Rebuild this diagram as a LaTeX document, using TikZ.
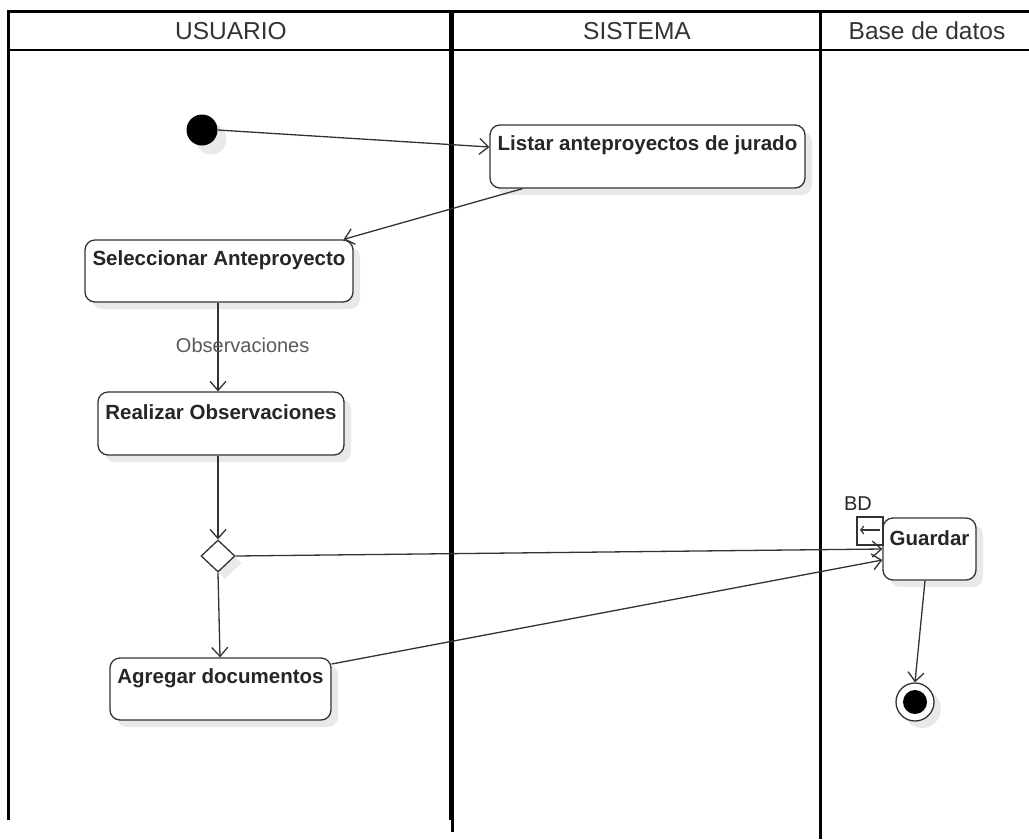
\documentclass[tikz,border=0pt]{standalone}
\usepackage{fontspec}
\setmainfont{Liberation Sans}
\usetikzlibrary{arrows.meta,shapes.geometric,shadows,calc}
\definecolor{ink}{HTML}{333333}
\definecolor{shd}{HTML}{E9E9E9}
\newcommand{\boxfont}{\fontsize{20.5pt}{24pt}\selectfont\bfseries}
\newcommand{\headfont}{\fontsize{24.5pt}{28pt}\selectfont}
\newcommand{\smallfont}{\fontsize{20pt}{24pt}\selectfont}
\begin{document}
\begin{tikzpicture}[x=1pt,y=-1pt,
  lane/.style={line width=3pt, black},
  act/.style={draw=ink, line width=1.3pt, rounded corners=10pt, fill=white, inner sep=0pt,
    drop shadow={shadow xshift=7pt, shadow yshift=-7pt, fill=shd, opacity=1}},
  flow/.style={draw=ink, line width=1.3pt, -{Straight Barb[length=9pt,width=16pt]}},
  headtxt/.style={font=\headfont, text=ink},
  lbl/.style={anchor=center, yshift=-21pt, font=\boxfont, text=black!85}
]
\useasboundingbox (0,0) rectangle (1029,839);
% swimlanes
\draw[line width=2.5pt] (7,11.5) -- (1029,11.5);
\draw[line width=2.5pt] (7,50) -- (1029,50);
\draw[lane] (8.5,10.5) -- (8.5,820);
\draw[line width=2.5pt] (450.5,10.5) -- (450.5,820);
\draw[line width=2.2pt] (452.5,10.5) -- (452.5,832);
\draw[lane] (820,10.5) -- (820,839);
\node[headtxt] (hu) at (231,31) {USUARIO};
\node[headtxt] (hs) at (637,31) {SISTEMA};
\node[headtxt] (hb) at (927,31) {Base de datos};
% initial
\fill[shd] (211,139) circle (15.5);
\node[circle, fill=black, minimum size=31pt, inner sep=0pt] (init) at (202,130) {};
% activities
\node[act, minimum width=315pt, minimum height=63pt, label={[lbl]north:Listar anteproyectos de jurado}] (listar) at (647.5,156.5) {};
\node[act, minimum width=268pt, minimum height=62pt, label={[lbl]north:Seleccionar Anteproyecto}] (sel) at (219,271) {};
\node[act, minimum width=246pt, minimum height=63pt, label={[lbl]north:Realizar Observaciones}] (real) at (221,423.5) {};
\node[act, minimum width=221pt, minimum height=62pt, label={[lbl]north:Agregar documentos}] (agr) at (220.5,689) {};
\node[act, minimum width=93pt, minimum height=62pt, label={[lbl]north:Guardar}] (guar) at (929.5,549) {};
% decision
\node[diamond, draw=ink, line width=1.3pt, fill=white, minimum width=34pt, minimum height=32pt, inner sep=0pt,
  drop shadow={shadow xshift=7pt, shadow yshift=-7pt, fill=shd, opacity=1}] (dec) at (218,556) {};
% pin
\node[draw=ink, line width=1.3pt, fill=white, minimum width=26pt, minimum height=28pt, inner sep=0pt] (pin) at (870,531) {};
\coordinate (pa) at ($(pin.center)+(10,-1)$);
\coordinate (pb) at ($(pin.center)+(-10,-1)$);
\draw[ink, line width=1.2pt, -{Straight Barb[length=3pt,width=8pt]}] (pa) -- (pb);
\node[font=\smallfont, text=black!85] (bd) at (858,504) {BD};
% final
\fill[shd] (922,709) circle (19);
\node[circle, draw=ink, line width=1.3pt, fill=white, minimum size=38pt, inner sep=0pt] (fin) at (915,702) {};
\node[circle, fill=black, minimum size=24pt, inner sep=0pt] (fininner) at (fin.center) {};
% flows
\draw[flow] (init.east) -- ([yshift=9.5pt]listar.west);
\draw[flow] ([xshift=-125pt]listar.south) -- ([xshift=-10pt]sel.north east);
\draw[flow] ([xshift=-1pt]sel.south) -- node[pos=0.48, right=-46pt, font=\smallfont, text=black!65, fill=none] (obs) {Observaciones} ([xshift=-3pt]real.north);
\draw[flow] ([xshift=-3pt]real.south) -- (dec.north);
\draw[flow] (dec.east) -- (guar.west);
\draw[flow] (dec.south) -- ([xshift=-0.5pt]agr.north);
\draw[flow] ([yshift=25pt]agr.east) -- ([yshift=-11pt]guar.west);
\draw[flow] ([xshift=-4.5pt]guar.south) -- (fin.north);
\end{tikzpicture}
\end{document}
